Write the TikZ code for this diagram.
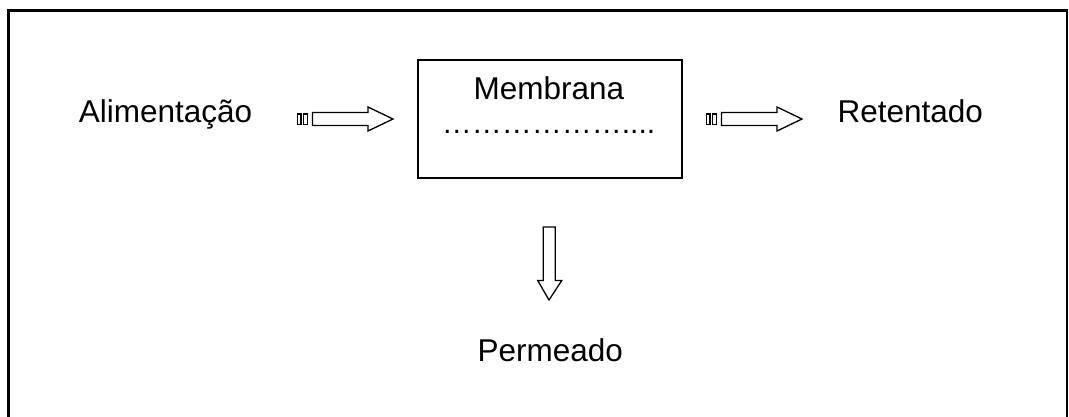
\documentclass[tikz,border=0pt]{standalone}
\usepackage{fontspec}
\setmainfont{Liberation Sans}
\begin{document}
\begin{tikzpicture}[x=1pt,y=-1pt,
  frameline/.style={line width=2.2pt,black},
  boxline/.style={draw,line width=1.5pt,black},
  arrowline/.style={draw,line width=1.3pt,black,line join=miter},
  label/.style={font=\fontsize{31.5}{38}\selectfont,inner sep=0pt,anchor=base},
  % striped block arrow pointing right, drawn from its own origin
  striped/.pic={
    \path[arrowline] (0,-5) rectangle (3.6,5.5);
    \path[arrowline] (6,-5) rectangle (10,5.5);
    \path[arrowline] (15,-6.5) -- (70.5,-6.5) -- (70.5,-12) -- (95.5,0)
      -- (70.5,12) -- (70.5,6.5) -- (15,6.5) -- cycle;
  }
]
\useasboundingbox (0,0) rectangle (1069,417);

% outer frame (open at the bottom)
\draw[frameline] (8.5,440) -- (8.5,10.5) -- (1067,10.5) -- (1067,440);

% membrane box
\node[boxline,minimum width=264pt,minimum height=118pt,inner sep=0pt]
  (membrana) at (550,119) {};
\node[label] (mtitle) at (549,100) {Membrana};
\node[label,font=\fontsize{30}{36}\selectfont] (mline) at (548.5,134)
  {\char"2026\char"2026\char"2026\char"2026\char"2026\char"2026....};

% labels
\node[label] (alim) at (165.5,122.3) {Alimentação};
\node[label] (ret) at (910.3,122.3) {Retentado};
\node[label] (perm) at (550.3,361.7) {Permeado};

% flow arrows
\coordinate (inflow) at (297.5,119);
\coordinate (outflow) at (706.5,119);
\pic at (inflow) {striped};
\pic at (outflow) {striped};

% permeate arrow
\coordinate (down) at (549,227);
\path[arrowline] (down) ++(-5.8,0) -- ++(0,53.5) -- ++(-5.5,0) -- (549,300)
  -- (561.8,280.5) -- (555.2,280.5) -- (555.2,227) -- cycle;
\end{tikzpicture}
\end{document}
